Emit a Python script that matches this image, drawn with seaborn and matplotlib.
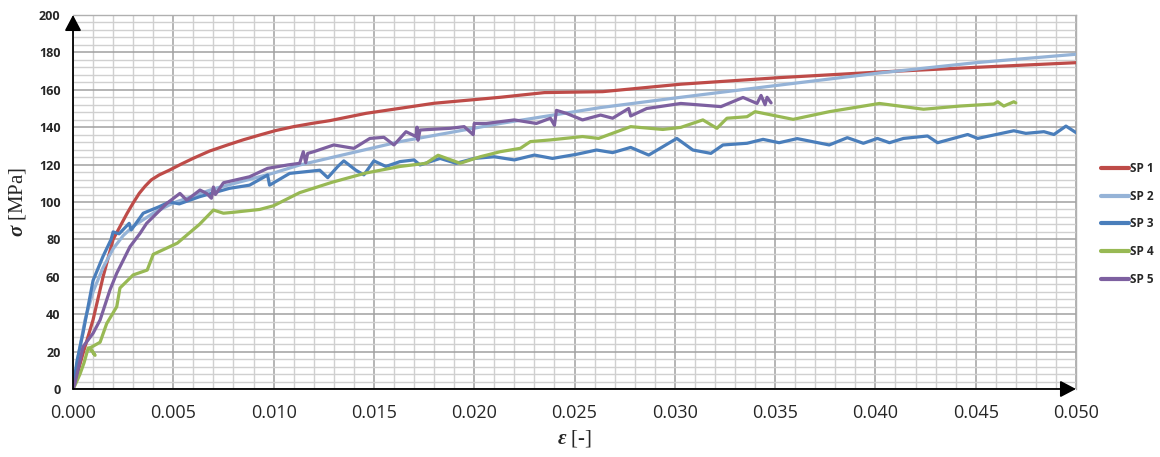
import numpy as np
import pandas as pd
import matplotlib
matplotlib.use("Agg")
import matplotlib.pyplot as plt
from matplotlib.ticker import MultipleLocator, FormatStrFormatter
import seaborn as sns

# Stress-strain curves of five specimens (strain [-], stress [MPa])
sp1_eps = [0, 0.0005, 0.001, 0.0015, 0.002, 0.0024, 0.0027, 0.0030, 0.0033, 0.0036,
           0.0039, 0.0043, 0.0048, 0.0054, 0.006, 0.0068, 0.0077, 0.0085, 0.0093,
           0.0101, 0.011, 0.0119, 0.0128, 0.0146, 0.018, 0.0213, 0.0235, 0.0264,
           0.0303, 0.0352, 0.0402, 0.045, 0.050]
sp1_sig = [0, 19, 37, 60, 80, 88, 94, 99.5, 104.6, 108.5,
           111.8, 114.5, 117, 120.3, 123.4, 127.2, 130.5, 133.3, 135.8,
           138.2, 140.3, 142, 143.5, 147.4, 152.8, 156, 158.5, 159,
           163, 166.5, 169.5, 172, 174.5]

sp2_eps = [0, 0.0003, 0.0006, 0.001, 0.0015, 0.002, 0.0025, 0.003, 0.004, 0.005,
           0.007, 0.010, 0.0113, 0.0163, 0.0213, 0.0263, 0.0303, 0.0352, 0.0402,
           0.045, 0.050]
sp2_sig = [0, 20, 37, 52, 65, 75, 82, 87, 94, 99.5,
           107, 115.5, 119.8, 132.3, 142, 150.5, 156, 162.5, 169,
           174.5, 179]

sp3_eps = [0, 0.0002, 0.0005, 0.001, 0.0015, 0.0019, 0.0020, 0.0023, 0.0028, 0.0029,
           0.0035, 0.0043, 0.0048, 0.0053, 0.0063, 0.0078, 0.0088, 0.0097, 0.0098,
           0.0108, 0.0123, 0.0127, 0.0132, 0.0135, 0.0141, 0.0145, 0.0150, 0.0156,
           0.0163, 0.0170, 0.0173, 0.0183, 0.0191, 0.0200, 0.0210, 0.0220, 0.0230,
           0.0239, 0.0251, 0.0261, 0.0269, 0.0278, 0.0287, 0.0301, 0.0309, 0.0318,
           0.0324, 0.0336, 0.0344, 0.0352, 0.0361, 0.0377, 0.0386, 0.0394, 0.0401,
           0.0407, 0.0414, 0.0426, 0.0431, 0.0446, 0.0451, 0.0469, 0.0475, 0.0484,
           0.0489, 0.0495, 0.0500]
sp3_sig = [0, 15, 30, 58, 71, 80, 84, 83, 88.6, 85,
           94, 97.5, 100, 99, 102.8, 107.3, 109, 114.4, 109,
           115.3, 117, 113, 119, 122, 117, 114.5, 122, 119,
           121.6, 122.5, 119.8, 123.3, 120.7, 123.3, 124.2, 122.5, 125.1,
           123.3, 125.5, 127.8, 126.4, 129.2, 125.1, 134, 127.8, 126,
           130.5, 131.4, 133.5, 131.7, 133.9, 130.5, 134.4, 131.4, 134,
           131.7, 134, 135.3, 131.7, 136.1, 134, 138.1, 136.7, 137.6,
           136.1, 140.6, 137.1]

sp4_eps = [0, 0.0001, 0.00035, 0.00055, 0.00076, 0.0009, 0.0011, 0.00085, 0.00135,
           0.00168, 0.00218, 0.00234, 0.0030, 0.0037, 0.0040, 0.0052, 0.0063, 0.0070,
           0.0075, 0.0080, 0.0093, 0.0100, 0.0113, 0.0129, 0.0146, 0.0163, 0.0176,
           0.0182, 0.0193, 0.0203, 0.0213, 0.0223, 0.0228, 0.0238, 0.0254, 0.0262,
           0.0278, 0.0294, 0.0303, 0.0314, 0.0321, 0.0326, 0.0336, 0.0340, 0.0359,
           0.0377, 0.0402, 0.0424, 0.0442, 0.0459, 0.0461, 0.0464, 0.0469, 0.0470]
sp4_sig = [0, 2, 8, 14, 22, 21, 18, 22, 25,
           35, 44, 54, 61, 63.6, 72, 78, 88, 95.7,
           94, 94.5, 96, 98, 105, 110.5, 115.5, 119, 120.7,
           125, 120.7, 124.2, 126.9, 128.7, 132.3, 133.2, 135, 134,
           140.3, 138.8, 139.9, 143.9, 139.4, 144.8, 145.6, 148.3, 144.2,
           148.3, 152.7, 149.6, 151.3, 152.4, 153.6, 151.3, 153.6, 153]

sp5_eps = [0, 0.0001, 0.0005, 0.001, 0.00135, 0.00184, 0.00218, 0.00259, 0.00284,
           0.00334, 0.00367, 0.00417, 0.00467, 0.00533, 0.00567, 0.00633, 0.00666,
           0.0069, 0.0070, 0.0071, 0.0075, 0.0088, 0.0097, 0.0107, 0.0113, 0.01148,
           0.0116, 0.0117, 0.0120, 0.0130, 0.0140, 0.0148, 0.0155, 0.0160, 0.0166,
           0.0171, 0.01715, 0.0172, 0.0173, 0.0188, 0.0195, 0.01995, 0.0200, 0.0206,
           0.0220, 0.0231, 0.0238, 0.0240, 0.0241, 0.0246, 0.0254, 0.0263, 0.0269,
           0.0277, 0.0278, 0.0286, 0.0303, 0.0323, 0.0334, 0.0341, 0.0343, 0.0345,
           0.0346, 0.0348]
sp5_sig = [0, 3, 22.6, 29.8, 36.9, 52.9, 61.9, 70.7, 76.1,
           83.2, 88.6, 93.9, 99.2, 104.6, 101, 106.4, 104.6,
           102, 108, 104, 110.3, 113.5, 118, 119.8, 120.7, 126.9,
           121, 126, 126.9, 130.5, 128.7, 134, 134.6, 130.5, 137.6,
           135, 140, 133, 138.5, 139.4, 140.3, 136, 142, 142,
           143.9, 142, 144.8, 141, 149, 147.4, 143.9, 146.5, 144.8,
           150, 146, 150, 152.7, 151, 155.9, 152.7, 157, 152,
           156, 153]

labels = ["SP 1", "SP 2", "SP 3", "SP 4", "SP 5"]
colors = ["#BE4B48", "#95B3D7", "#4A7EBB", "#98B954", "#7D60A0"]

curves = [(sp1_eps, sp1_sig), (sp2_eps, sp2_sig), (sp3_eps, sp3_sig),
          (sp4_eps, sp4_sig), (sp5_eps, sp5_sig)]
frames = []
for lab, (e, s) in zip(labels, curves):
    frames.append(pd.DataFrame({"eps": e, "sig": s, "specimen": lab}))
df = pd.concat(frames, ignore_index=True)

sns.set_style("white")
plt.rcParams["font.family"] = ["Open Sans", "DejaVu Sans"]
plt.rcParams["mathtext.fontset"] = "custom"
plt.rcParams["mathtext.rm"] = "Liberation Serif"
plt.rcParams["mathtext.it"] = "Liberation Serif:italic"
plt.rcParams["mathtext.bf"] = "Liberation Serif:italic:bold"

fig = plt.figure(figsize=(11.6, 4.57), dpi=100)
ax = fig.add_axes([73 / 1160, 1 - 389 / 457, (1076 - 73) / 1160, (389 - 15) / 457])

sns.lineplot(data=df, x="eps", y="sig", hue="specimen", palette=colors,
             hue_order=labels, sort=False, estimator=None, units="specimen",
             linewidth=2.3, ax=ax, zorder=3)
for ln in ax.get_lines():
    ln.set_solid_joinstyle("round")
    ln.set_solid_capstyle("round")

ax.set_xlim(0, 0.050)
ax.set_ylim(0, 200)
ax.xaxis.set_major_locator(MultipleLocator(0.005))
ax.xaxis.set_minor_locator(MultipleLocator(0.001))
ax.yaxis.set_major_locator(MultipleLocator(20))
ax.yaxis.set_minor_locator(MultipleLocator(4))
ax.xaxis.set_major_formatter(FormatStrFormatter("%.3f"))
ax.yaxis.set_major_formatter(FormatStrFormatter("%d"))

ax.grid(which="major", color="#a0a0a0", linewidth=1.1)
ax.grid(which="minor", color="#d0d0d0", linewidth=1.0)
ax.set_axisbelow(True)

for side in ["top", "right"]:
    ax.spines[side].set_color("#b0b0b0")
    ax.spines[side].set_linewidth(1.0)
for side in ["left", "bottom"]:
    ax.spines[side].set_visible(False)

# Axis lines with arrowheads
arrow = dict(arrowstyle="-|>,head_length=0.95,head_width=0.5", color="black",
             lw=1.3, shrinkA=0, shrinkB=0)
ax.annotate("", xy=(0, 1.0), xytext=(0, 0), xycoords="axes fraction",
            textcoords="axes fraction", arrowprops=arrow, zorder=5)
ax.annotate("", xy=(1.0, 0), xytext=(0, 0), xycoords="axes fraction",
            textcoords="axes fraction", arrowprops=arrow, zorder=5)

ax.tick_params(axis="both", which="both", length=0)
ax.tick_params(axis="x", pad=11, labelsize=13)
ax.tick_params(axis="y", pad=9, labelsize=9)
for t in ax.get_yticklabels():
    t.set_fontweight("bold")

ax.set_xlabel(r"$\mathbf{\varepsilon}$ [-]", fontsize=15, family="Liberation Serif",
              labelpad=4)
ax.set_ylabel(r"$\mathbf{\sigma}$ [MPa]", fontsize=15, family="Liberation Serif",
              labelpad=8)

handles, labs = ax.get_legend_handles_labels()
for h in handles:
    h.set_linewidth(3.0)
if ax.get_legend():
    ax.get_legend().remove()
fig.legend(handles, labs, loc="upper left",
           bbox_to_anchor=(1095 / 1160, 1 - 156 / 457),
           frameon=False, borderpad=0, handlelength=2.4, handletextpad=0.1,
           labelspacing=1.25, prop={"family": "Open Sans", "size": 8.5, "weight": "bold"})

fig.savefig("out.png", dpi=100, facecolor="white")
